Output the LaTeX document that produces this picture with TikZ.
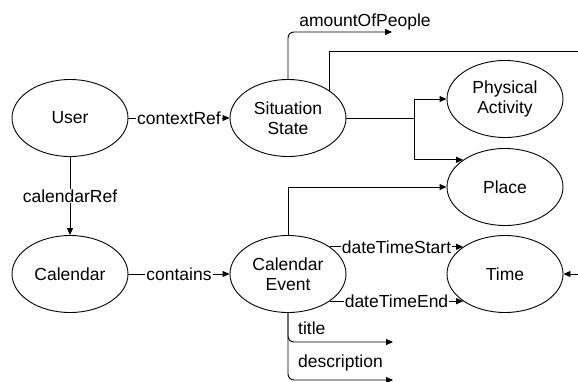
\documentclass[tikz,border=0pt]{standalone}
\usepackage{fontspec}
\setmainfont{Liberation Sans}
\usetikzlibrary{shapes.geometric,arrows.meta}
\begin{document}
\begin{tikzpicture}[x=1pt,y=-1pt,
  ent/.style={ellipse,draw,line width=0.9pt,minimum width=116pt,minimum height=77pt,inner sep=0pt,align=center,font=\fontsize{17.5}{20}\selectfont},
  lbl/.style={fill=white,inner sep=1pt,font=\fontsize{17.5}{20}\selectfont},
  txt/.style={inner sep=0pt,font=\fontsize{17.5}{20}\selectfont},
  conn/.style={line width=0.9pt},
  arr/.style={line width=0.9pt,-{Triangle[length=7pt,width=6pt]}}]
\useasboundingbox (0,0) rectangle (578,381);
\node[ent] (user) at (70,118) {User};
\node[ent] (ss) at (288,118) {Situation\\State};
\node[ent] (pa) at (505,99) {Physical\\Activity};
\node[ent] (place) at (505,187) {Place};
\node[ent] (cal) at (70,274) {Calendar};
\node[ent] (ce) at (288,274) {Calendar\\Event};
\node[ent] (time) at (505,274) {Time};
\coordinate (fork) at (414,118);
\coordinate (amtend) at (392,32);
\coordinate (farright) at (578,51);
\coordinate (timein) at (578,274);
\coordinate (titleend) at (393,342);
\coordinate (descend) at (393,380);
\draw[arr] (user) -- node[lbl] {contextRef} (ss);
\draw[arr] (user) -- node[lbl] {calendarRef} (cal);
\draw[arr] (cal) -- node[lbl] {contains} (ce);
\draw[arr,rounded corners=6pt] (ss.north) |- (amtend);
\node[txt] (amt) at (365,22) {amountOfPeople};
\draw[conn] (ss.33) |- (farright);
\draw[conn] (ss.east) -- (fork);
\draw[arr] (fork) |- (pa.west);
\draw[arr] (fork) |- (place.147);
\draw[arr] (ce.north) |- (place.west);
\draw[arr] (ce.33) -- node[lbl] {dateTimeStart} (time.147);
\draw[arr] (ce.-33) -- node[lbl] {dateTimeEnd} (time.-147);
\draw[arr] (timein) -- (time.east);
\draw[arr,rounded corners=6pt] (ce.south) |- (titleend);
\node[txt,anchor=west] (ttl) at (298,328) {title};
\draw[arr,rounded corners=6pt] (ce.south) |- (descend);
\node[txt,anchor=west] (desc) at (298,363) {description};
\end{tikzpicture}
\end{document}
